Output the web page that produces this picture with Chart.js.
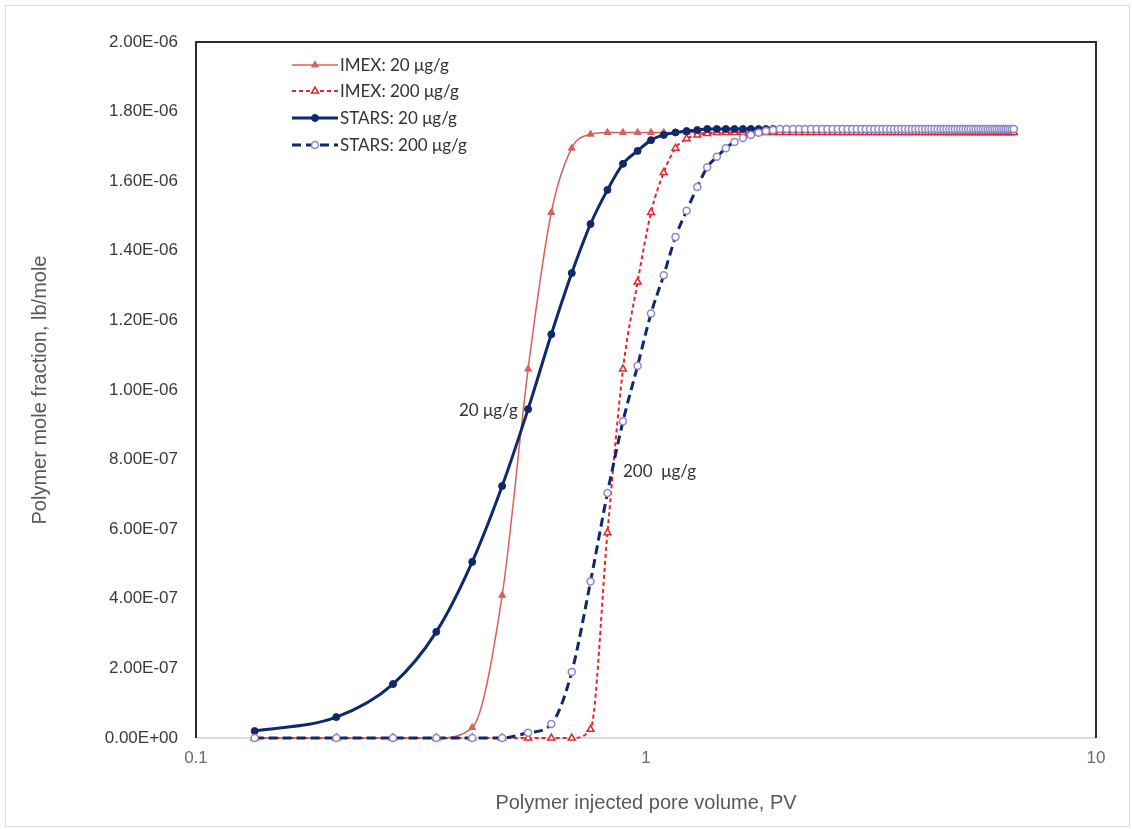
<!DOCTYPE html>
<html>
<head>
<meta charset="utf-8">
<script src="https://cdn.jsdelivr.net/npm/chart.js@4.4.1/dist/chart.umd.min.js"></script>
<style>
  html, body { margin: 0; padding: 0; background: #fff; }
  #wrap { position: relative; width: 1132px; height: 829px; }
</style>
</head>
<body>
<div id="wrap"><canvas id="chart"></canvas></div>
<script>
// injected pore volume, PV (one value per time step)
const pv = [
  0.135, 0.205, 0.274, 0.342, 0.411, 0.479, 0.547, 0.616, 0.684, 0.753,
  0.821, 0.889, 0.958, 1.026, 1.095, 1.163, 1.231, 1.300, 1.368, 1.437,
  1.505, 1.573, 1.642, 1.710, 1.779, 1.847, 1.915, 1.984, 2.052, 2.121,
  2.189, 2.257, 2.326, 2.394, 2.463, 2.531, 2.599, 2.668, 2.736, 2.805,
  2.873, 2.941, 3.010, 3.078, 3.147, 3.215, 3.283, 3.352, 3.420, 3.489,
  3.557, 3.625, 3.694, 3.762, 3.831, 3.899, 3.967, 4.036, 4.104, 4.173,
  4.241, 4.309, 4.378, 4.446, 4.515, 4.583, 4.651, 4.720, 4.788, 4.857,
  4.925, 4.993, 5.062, 5.130, 5.199, 5.267, 5.335, 5.404, 5.472, 5.541,
  5.609, 5.677, 5.746, 5.814, 5.883, 5.951, 6.019, 6.088, 6.156, 6.225,
  6.293, 6.361, 6.430, 6.498, 6.567
];

// polymer mole fraction, in units of 1E-07 lb/mole
const imex20 = [
  0, 0, 0, 0, 0.3, 4.1, 10.6, 15.1, 16.95, 17.35,
  17.4, 17.4, 17.4, 17.4, 17.4, 17.4, 17.4, 17.4, 17.4, 17.4,
  17.4, 17.4, 17.4, 17.4, 17.4, 17.4, 17.4, 17.4, 17.4, 17.4,
  17.4, 17.4, 17.4, 17.4, 17.4, 17.4, 17.4, 17.4, 17.4, 17.4,
  17.4, 17.4, 17.4, 17.4, 17.4, 17.4, 17.4, 17.4, 17.4, 17.4,
  17.4, 17.4, 17.4, 17.4, 17.4, 17.4, 17.4, 17.4, 17.4, 17.4,
  17.4, 17.4, 17.4, 17.4, 17.4, 17.4, 17.4, 17.4, 17.4, 17.4,
  17.4, 17.4, 17.4, 17.4, 17.4, 17.4, 17.4, 17.4, 17.4, 17.4,
  17.4, 17.4, 17.4, 17.4, 17.4, 17.4, 17.4, 17.4, 17.4, 17.4,
  17.4, 17.4, 17.4, 17.4, 17.4
];
const imex200 = [
  0, 0, 0, 0, 0, 0, 0, 0, 0, 0.25,
  5.9, 10.6, 13.1, 15.1, 16.25, 16.95, 17.22, 17.33, 17.37, 17.4,
  17.4, 17.4, 17.4, 17.4, 17.4, 17.4, 17.4, 17.4, 17.4, 17.4,
  17.4, 17.4, 17.4, 17.4, 17.4, 17.4, 17.4, 17.4, 17.4, 17.4,
  17.4, 17.4, 17.4, 17.4, 17.4, 17.4, 17.4, 17.4, 17.4, 17.4,
  17.4, 17.4, 17.4, 17.4, 17.4, 17.4, 17.4, 17.4, 17.4, 17.4,
  17.4, 17.4, 17.4, 17.4, 17.4, 17.4, 17.4, 17.4, 17.4, 17.4,
  17.4, 17.4, 17.4, 17.4, 17.4, 17.4, 17.4, 17.4, 17.4, 17.4,
  17.4, 17.4, 17.4, 17.4, 17.4, 17.4, 17.4, 17.4, 17.4, 17.4,
  17.4, 17.4, 17.4, 17.4, 17.4
];
const stars20 = [
  0.2, 0.6, 1.55, 3.05, 5.06, 7.24, 9.45, 11.6, 13.36, 14.77,
  15.75, 16.5, 16.87, 17.18, 17.33, 17.4, 17.44, 17.47, 17.5, 17.5,
  17.5, 17.5, 17.5, 17.5, 17.5, 17.5, 17.5, 17.5, 17.5, 17.5,
  17.5, 17.5, 17.5, 17.5, 17.5, 17.5, 17.5, 17.5, 17.5, 17.5,
  17.5, 17.5, 17.5, 17.5, 17.5, 17.5, 17.5, 17.5, 17.5, 17.5,
  17.5, 17.5, 17.5, 17.5, 17.5, 17.5, 17.5, 17.5, 17.5, 17.5,
  17.5, 17.5, 17.5, 17.5, 17.5, 17.5, 17.5, 17.5, 17.5, 17.5,
  17.5, 17.5, 17.5, 17.5, 17.5, 17.5, 17.5, 17.5, 17.5, 17.5,
  17.5, 17.5, 17.5, 17.5, 17.5, 17.5, 17.5, 17.5, 17.5, 17.5,
  17.5, 17.5, 17.5, 17.5, 17.5
];
const stars200 = [
  0, 0, 0, 0, 0, 0, 0.15, 0.4, 1.9, 4.5,
  7.04, 9.1, 10.7, 12.2, 13.3, 14.4, 15.15, 15.83, 16.4, 16.7,
  16.95, 17.13, 17.24, 17.33, 17.39, 17.44, 17.47, 17.5, 17.5, 17.5,
  17.5, 17.5, 17.5, 17.5, 17.5, 17.5, 17.5, 17.5, 17.5, 17.5,
  17.5, 17.5, 17.5, 17.5, 17.5, 17.5, 17.5, 17.5, 17.5, 17.5,
  17.5, 17.5, 17.5, 17.5, 17.5, 17.5, 17.5, 17.5, 17.5, 17.5,
  17.5, 17.5, 17.5, 17.5, 17.5, 17.5, 17.5, 17.5, 17.5, 17.5,
  17.5, 17.5, 17.5, 17.5, 17.5, 17.5, 17.5, 17.5, 17.5, 17.5,
  17.5, 17.5, 17.5, 17.5, 17.5, 17.5, 17.5, 17.5, 17.5, 17.5,
  17.5, 17.5, 17.5, 17.5, 17.5
];

const seriesNames = ["IMEX: 20 μg/g", "IMEX: 200 μg/g", "STARS: 20 μg/g", "STARS: 200 μg/g"];

const xTickValues = [0.1, 1, 10];
const xTickLabels = ["0.1", "1", "10"];
const yTickValues = [0, 2e-7, 4e-7, 6e-7, 8e-7, 1e-6, 1.2e-6, 1.4e-6, 1.6e-6, 1.8e-6, 2e-6];
const yTickLabels = ["0.00E+00", "2.00E-07", "4.00E-07", "6.00E-07", "8.00E-07", "1.00E-06",
                     "1.20E-06", "1.40E-06", "1.60E-06", "1.80E-06", "2.00E-06"];

// curve labels, placed in data coordinates
const curveLabels = [
  { text: "20 μg/g",  x: 0.519, y: 9.4e-7,  align: "right" },
  { text: "200  μg/g", x: 0.889, y: 7.67e-7, align: "left" }
];

const toPoints = arr => arr.map((v, i) => ({ x: pv[i], y: v * 1e-7 }));

const NAVY = "#10296c";
const AXIS_FONT = "'Liberation Sans', Arial, sans-serif";
const LABEL_FONT = "Lato, 'Open Sans', sans-serif";

const datasets = [
  {
    label: seriesNames[0], data: toPoints(imex20), order: 4,
    borderColor: "#d6625c", borderWidth: 1.5,
    pointStyle: "triangle", pointRadius: 4, pointBorderWidth: 1,
    pointBackgroundColor: "#d6625c", pointBorderColor: "#d6625c"
  },
  {
    label: seriesNames[1], data: toPoints(imex200), order: 3,
    borderColor: "#e8262a", borderWidth: 2, borderDash: [4, 3],
    pointStyle: "triangle", pointRadius: 4, pointBorderWidth: 1.5,
    pointBackgroundColor: "#ffffff", pointBorderColor: "#e8262a"
  },
  {
    label: seriesNames[2], data: toPoints(stars20), order: 2,
    borderColor: NAVY, borderWidth: 3,
    pointStyle: "circle", pointRadius: 3.5, pointBorderWidth: 1,
    pointBackgroundColor: NAVY, pointBorderColor: NAVY
  },
  {
    label: seriesNames[3], data: toPoints(stars200), order: 1,
    borderColor: NAVY, borderWidth: 3, borderDash: [9, 5],
    pointStyle: "circle", pointRadius: 3.5, pointBorderWidth: 1.5,
    pointBackgroundColor: "#ffffff", pointBorderColor: "#8f86c9"
  }
];
datasets.forEach(d => {
  d.fill = false;
  d.clip = false;
  d.cubicInterpolationMode = "monotone";
});

/* ---------------- frame: outer border + plot box ---------------- */
const framePlugin = {
  id: "frame",
  beforeDraw(chart) {
    const ctx = chart.ctx;
    ctx.save();
    ctx.fillStyle = "#fff";
    ctx.fillRect(0, 0, chart.width, chart.height);
    ctx.strokeStyle = "#dcdcdc";
    ctx.lineWidth = 1;
    ctx.strokeRect(5.5, 5.5, chart.width - 8, chart.height - 8);
    ctx.restore();
  },
  beforeDatasetsDraw(chart) {
    const { ctx, chartArea: a } = chart;
    ctx.save();
    ctx.strokeStyle = "#cfcfcf";
    ctx.lineWidth = 1.5;
    ctx.beginPath();
    ctx.moveTo(a.left, a.bottom);
    ctx.lineTo(a.right, a.bottom);
    ctx.stroke();
    ctx.strokeStyle = "#2b2b2b";
    ctx.lineWidth = 2;
    ctx.beginPath();
    ctx.moveTo(a.left, a.bottom);
    ctx.lineTo(a.left, a.top);
    ctx.lineTo(a.right, a.top);
    ctx.lineTo(a.right, a.bottom);
    ctx.stroke();
    ctx.restore();
  }
};

/* ---------------- legend inside the plot ---------------- */
const legendPlugin = {
  id: "innerLegend",
  afterDraw(chart) {
    const ctx = chart.ctx;
    const rowsY = [65, 91, 118, 145];
    ctx.save();
    chart.data.datasets.forEach((d, i) => {
      const y = rowsY[i];
      ctx.strokeStyle = d.borderColor;
      ctx.lineWidth = d.borderWidth;
      ctx.setLineDash(d.borderDash || []);
      ctx.beginPath();
      ctx.moveTo(292, y);
      ctx.lineTo(338, y);
      ctx.stroke();
      ctx.setLineDash([]);
      ctx.fillStyle = d.pointBackgroundColor;
      ctx.strokeStyle = d.pointBorderColor;
      ctx.lineWidth = d.pointBorderWidth;
      Chart.helpers.drawPoint(ctx, {
        pointStyle: d.pointStyle, radius: d.pointRadius, rotation: 0, borderWidth: d.pointBorderWidth
      }, 315, y);
      ctx.fillStyle = "#333";
      ctx.font = "17px " + LABEL_FONT;
      ctx.textAlign = "left";
      ctx.textBaseline = "middle";
      ctx.fillText(d.label, 340, y + 1);
    });
    ctx.restore();
  }
};

/* ---------------- curve labels ---------------- */
const labelPlugin = {
  id: "curveLabels",
  afterDatasetsDraw(chart) {
    const { ctx, scales } = chart;
    ctx.save();
    ctx.fillStyle = "#333";
    ctx.font = "17px " + LABEL_FONT;
    ctx.textBaseline = "middle";
    curveLabels.forEach(l => {
      ctx.textAlign = l.align;
      ctx.fillText(l.text, scales.x.getPixelForValue(l.x), scales.y.getPixelForValue(l.y));
    });
    ctx.restore();
  }
};

new Chart(document.getElementById("chart"), {
  type: "line",
  data: { datasets },
  plugins: [framePlugin, legendPlugin, labelPlugin],
  options: {
    responsive: true,
    maintainAspectRatio: false,
    animation: false,
    layout: { padding: { top: 42, right: 36, left: 0, bottom: 0 } },
    plugins: { legend: { display: false }, tooltip: { enabled: false } },
    scales: {
      x: {
        type: "logarithmic",
        min: 0.1, max: 10,
        grid: { display: false, drawTicks: false },
        border: { display: false },
        afterBuildTicks: s => { s.ticks = xTickValues.map(v => ({ value: v })); },
        afterFit: s => { s.height = 91; },
        ticks: {
          autoSkip: false, maxRotation: 0, padding: 10,
          color: "#6b6b6b",
          font: { family: AXIS_FONT, size: 17 },
          callback: (v, i) => xTickLabels[i]
        },
        title: {
          display: true,
          text: "Polymer injected pore volume, PV",
          color: "#595959",
          font: { family: AXIS_FONT, size: 20 },
          padding: { top: 0, bottom: 14 }
        }
      },
      y: {
        min: 0, max: 2e-6,
        grid: { display: false, drawTicks: false },
        border: { display: false },
        afterBuildTicks: s => { s.ticks = yTickValues.map(v => ({ value: v })); },
        afterFit: s => { s.width = 196; },
        ticks: {
          padding: 18,
          color: "#3a3a3a",
          font: { family: AXIS_FONT, size: 17 },
          callback: (v, i) => yTickLabels[i]
        },
        title: {
          display: true,
          text: "Polymer mole fraction, lb/mole",
          color: "#595959",
          font: { family: AXIS_FONT, size: 20 },
          padding: { top: 28, bottom: 0 }
        }
      }
    }
  }
});
</script>
</body>
</html>
